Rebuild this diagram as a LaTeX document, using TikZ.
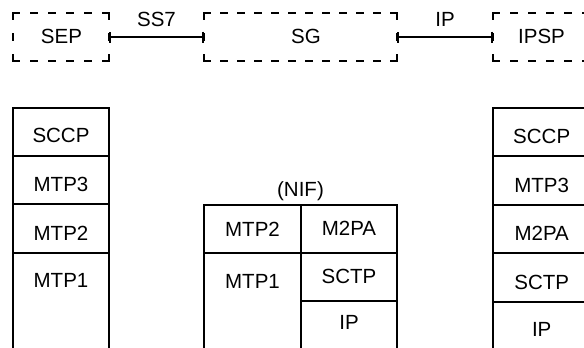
\documentclass[tikz,border=0pt]{standalone}
\usepackage{fontspec}
\setmainfont{Liberation Sans}
\usetikzlibrary{arrows.meta}
\begin{document}
\begin{tikzpicture}[x=1pt,y=-1pt,line width=2.4pt,
  lbl/.style={anchor=base,inner sep=0pt,outer sep=0pt,font=\fontsize{20.5}{24}\selectfont},
  boxnode/.style={rectangle,draw=none,inner sep=0pt,outer sep=0pt,minimum width=#1,minimum height=48pt},
  hsmall/.style={line cap=rect,dash pattern=on 6pt off 12pt},
  hwide/.style={line cap=rect,dash pattern=on 6pt off 11pt},
  vside/.style={line cap=rect,dash pattern=on 6pt off 15pt},
  conn/.style={{Bar[width=11pt]}-{Bar[width=11pt]}},
  cell/.style={draw,line width=2.4pt}
]
\useasboundingbox (0,0) rectangle (584,348);
\clip (0,0) rectangle (584,348);

% top boxes
\node[boxnode=96pt] (SEP) at (61,37) {};
\node[boxnode=193pt] (SG) at (300.5,37) {};
\node[boxnode=96pt] (IPSP) at (541,37) {};

\foreach \b/\h in {SEP/hsmall,SG/hwide,IPSP/hsmall}{
  \draw[\h] (\b.north west) -- (\b.north east);
  \draw[\h] (\b.south west) -- (\b.south east);
  \draw[vside] (\b.north west) -- (\b.south west);
  \draw[vside] (\b.north east) -- (\b.south east);
}

\node[lbl] (tSEP) at (61.5,43.8) {SEP};
\node[lbl] (tSG) at (306,43.8) {SG};
\node[lbl] (tIPSP) at (541.5,43.8) {IPSP};

\draw[conn] (SEP.east) -- (SG.west);
\draw[conn] (SG.east) -- (IPSP.west);
\node[lbl] (ss7) at (156.5,27) {SS7};
\node[lbl] (ipl) at (445,27) {IP};

% left stack
\draw[cell] (13,108) rectangle (109,156);
\draw[cell] (13,156) rectangle (109,204);
\draw[cell] (13,204) rectangle (109,253);
\draw[cell] (13,253) rectangle (109,370);
\node[lbl] (lSCCP) at (61,142.8) {SCCP};
\node[lbl] (lMTP3) at (61,191.8) {MTP3};
\node[lbl] (lMTP2) at (61,240.6) {MTP2};
\node[lbl] (lMTP1) at (61,287.3) {MTP1};

% middle stack (NIF)
\node[lbl] (nif) at (300.5,196.3) {(NIF)};
\draw[cell] (204,205) rectangle (301,253);
\draw[cell] (301,205) rectangle (397,253);
\draw[cell] (204,253) rectangle (301,370);
\draw[cell] (301,253) rectangle (397,301);
\draw[cell] (301,301) rectangle (397,370);
\node[lbl] (mMTP2) at (252.5,236.3) {MTP2};
\node[lbl] (mM2PA) at (349,235.6) {M2PA};
\node[lbl] (mMTP1) at (252.5,288.8) {MTP1};
\node[lbl] (mSCTP) at (349,283) {SCTP};
\node[lbl] (mIP) at (349,329.8) {IP};

% right stack
\draw[cell] (493,108) rectangle (589,156);
\draw[cell] (493,156) rectangle (589,205);
\draw[cell] (493,205) rectangle (589,253);
\draw[cell] (493,253) rectangle (589,302);
\draw[cell] (493,302) rectangle (589,370);
\node[lbl] (rSCCP) at (541.7,143.1) {SCCP};
\node[lbl] (rMTP3) at (541.7,192.3) {MTP3};
\node[lbl] (rM2PA) at (541.7,240.8) {M2PA};
\node[lbl] (rSCTP) at (541.7,289.3) {SCTP};
\node[lbl] (rIP) at (541.7,336.8) {IP};
\end{tikzpicture}
\end{document}
